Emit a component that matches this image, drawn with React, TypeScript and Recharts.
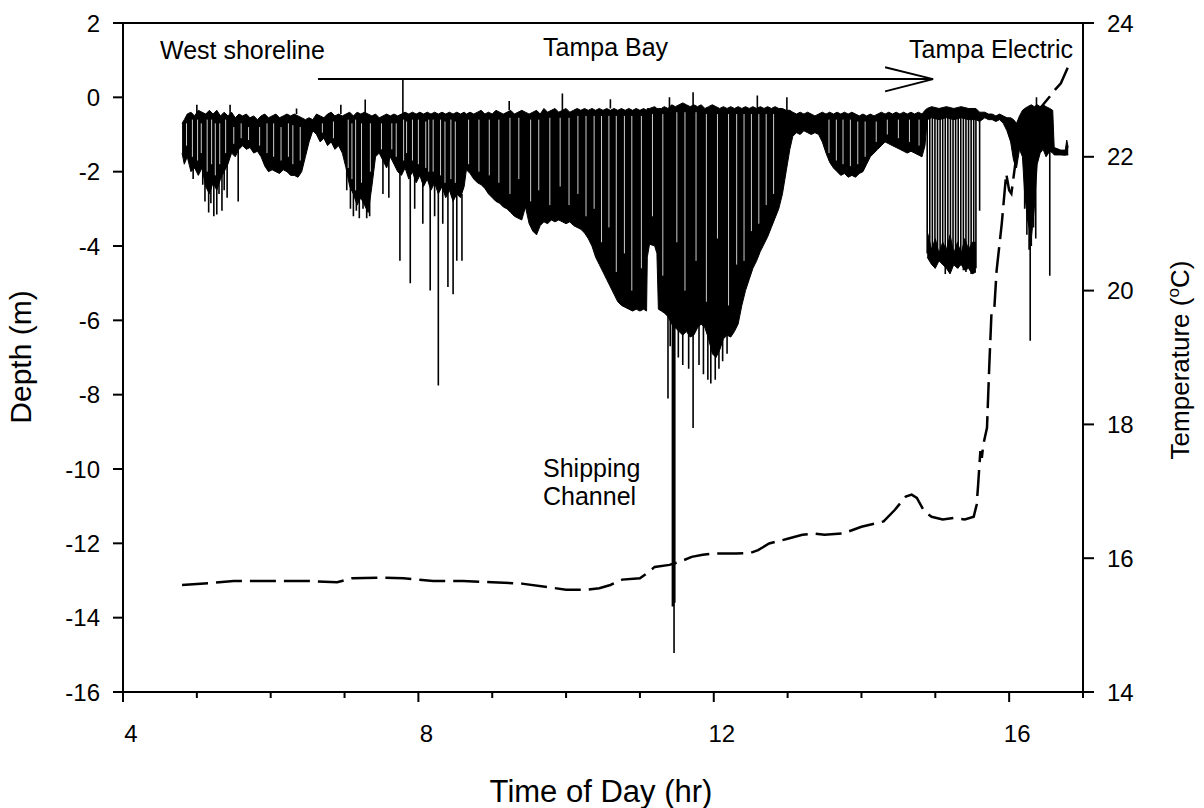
import React from 'react';
import { ComposedChart, Area, Line, XAxis, YAxis, ReferenceLine } from 'recharts';

const FONT = '"Liberation Sans", Arial, Helvetica, sans-serif';

// axis ticks
const timeTicks = [4, 5, 6, 7, 8, 9, 10, 11, 12, 13, 14, 15, 16, 17];
const timeLabels = [4, 8, 12, 16];
const depthTicks = [-16, -14, -12, -10, -8, -6, -4, -2, 0, 2];
const tempTicks = [14, 16, 18, 20, 22, 24];

// depth record: dense dive band [time (hr), shallow edge (m), deep edge (m)]
const depthBand: [number, number, number][] = [
  [4.8, -0.7, -1.5], [4.83, -0.6, -1.8], [4.87, -0.45, -1.6], [4.92, -0.4, -2.0], [4.97, -0.5, -1.9],
  [5.02, -0.35, -2.1], [5.07, -0.4, -1.9], [5.12, -0.45, -2.4], [5.17, -0.35, -2.6], [5.22, -0.45, -2.3],
  [5.27, -0.35, -2.5], [5.32, -0.5, -2.2], [5.37, -0.4, -2.0], [5.42, -0.5, -1.8], [5.47, -0.4, -1.5],
  [5.52, -0.55, -1.6], [5.57, -0.45, -1.4], [5.62, -0.5, -1.3], [5.67, -0.45, -1.4], [5.72, -0.55, -1.35],
  [5.77, -0.5, -1.5], [5.82, -0.6, -1.45], [5.87, -0.5, -1.6], [5.92, -0.45, -1.85], [5.97, -0.55, -2.0],
  [6.02, -0.5, -1.95], [6.07, -0.45, -2.0], [6.12, -0.55, -2.05], [6.17, -0.5, -1.95], [6.22, -0.45, -2.0],
  [6.27, -0.5, -2.1], [6.32, -0.45, -2.1], [6.37, -0.5, -2.15], [6.42, -0.55, -2.0], [6.47, -0.6, -1.6],
  [6.52, -0.55, -1.2], [6.57, -0.6, -0.9], [6.62, -0.45, -1.0], [6.67, -0.5, -1.2], [6.72, -0.55, -1.1],
  [6.77, -0.45, -1.3], [6.82, -0.4, -1.2], [6.87, -0.5, -1.4], [6.92, -0.45, -1.3], [6.97, -0.5, -1.5],
  [7.02, -0.45, -1.9], [7.07, -0.4, -2.4], [7.12, -0.5, -2.6], [7.17, -0.4, -2.9], [7.22, -0.45, -2.7],
  [7.27, -0.4, -2.9], [7.32, -0.45, -3.1], [7.37, -0.5, -2.4], [7.42, -0.45, -1.6], [7.47, -0.55, -1.5],
  [7.52, -0.5, -1.7], [7.57, -0.45, -1.9], [7.62, -0.5, -1.6], [7.67, -0.45, -1.8], [7.72, -0.5, -2.0],
  [7.77, -0.45, -2.1], [7.82, -0.4, -1.9], [7.87, -0.45, -2.2], [7.92, -0.4, -2.0], [7.97, -0.45, -2.3],
  [8.02, -0.4, -2.1], [8.07, -0.45, -2.4], [8.12, -0.4, -2.2], [8.17, -0.45, -2.5], [8.22, -0.4, -2.3],
  [8.27, -0.45, -2.6], [8.32, -0.4, -2.4], [8.37, -0.45, -2.7], [8.42, -0.4, -2.5], [8.47, -0.45, -2.8],
  [8.52, -0.4, -2.6], [8.57, -0.45, -2.7], [8.62, -0.4, -2.4], [8.65, -0.45, -1.95], [8.7, -0.4, -2.05],
  [8.75, -0.45, -2.2], [8.8, -0.4, -2.3], [8.85, -0.35, -2.35], [8.9, -0.45, -2.45], [8.95, -0.4, -2.6],
  [9.0, -0.45, -2.7], [9.05, -0.35, -2.8], [9.1, -0.4, -2.85], [9.15, -0.45, -2.95], [9.2, -0.4, -3.0],
  [9.25, -0.35, -3.1], [9.3, -0.45, -3.2], [9.35, -0.4, -3.25], [9.4, -0.35, -3.3], [9.45, -0.4, -2.95],
  [9.5, -0.45, -3.4], [9.55, -0.4, -3.6], [9.6, -0.35, -3.7], [9.65, -0.45, -3.45], [9.7, -0.3, -3.35],
  [9.75, -0.4, -3.4], [9.8, -0.35, -3.3], [9.85, -0.3, -3.35], [9.9, -0.4, -3.3], [9.95, -0.35, -3.35],
  [10.0, -0.3, -3.4], [10.05, -0.4, -3.35], [10.1, -0.35, -3.45], [10.15, -0.3, -3.5], [10.2, -0.35, -3.55],
  [10.25, -0.3, -3.65], [10.3, -0.35, -3.8], [10.35, -0.3, -4.0], [10.4, -0.35, -4.3], [10.45, -0.3, -4.5],
  [10.5, -0.35, -4.7], [10.55, -0.3, -4.9], [10.6, -0.35, -5.1], [10.65, -0.3, -5.3], [10.7, -0.35, -5.5],
  [10.75, -0.3, -5.6], [10.8, -0.35, -5.65], [10.85, -0.3, -5.7], [10.9, -0.35, -5.75], [10.95, -0.3, -5.7],
  [11.0, -0.35, -5.75], [11.05, -0.3, -5.7], [11.09, -0.35, -5.75], [11.1, -0.3, -4.3], [11.13, -0.3, -3.95],
  [11.2, -0.25, -4.0], [11.23, -0.3, -4.2], [11.25, -0.3, -5.7], [11.29, -0.3, -5.75], [11.33, -0.25, -5.8],
  [11.38, -0.3, -5.9], [11.43, -0.2, -6.1],
  [11.48, -0.25, -6.2], [11.53, -0.2, -6.3], [11.58, -0.15, -6.4], [11.63, -0.2, -6.3], [11.68, -0.25, -6.45],
  [11.73, -0.2, -6.4], [11.78, -0.25, -6.2], [11.83, -0.2, -6.1], [11.88, -0.3, -6.2], [11.93, -0.25, -6.5],
  [11.98, -0.2, -6.9], [12.03, -0.25, -7.0], [12.08, -0.3, -6.8], [12.13, -0.25, -6.5], [12.18, -0.3, -6.4],
  [12.23, -0.25, -6.45], [12.28, -0.3, -6.3], [12.33, -0.25, -6.1], [12.38, -0.3, -5.6], [12.43, -0.25, -5.2],
  [12.48, -0.3, -4.9], [12.53, -0.25, -4.6], [12.58, -0.3, -4.4], [12.63, -0.25, -4.15], [12.68, -0.3, -3.95],
  [12.73, -0.25, -3.75], [12.78, -0.3, -3.5], [12.83, -0.25, -3.25], [12.88, -0.3, -3.0], [12.93, -0.3, -2.6],
  [12.98, -0.35, -2.0], [13.03, -0.35, -1.4], [13.07, -0.4, -1.05], [13.12, -0.45, -0.95], [13.17, -0.4, -1.0],
  [13.22, -0.45, -0.9], [13.27, -0.4, -0.95], [13.32, -0.45, -1.0], [13.37, -0.5, -0.95], [13.42, -0.45, -1.0],
  [13.47, -0.4, -1.2], [13.52, -0.45, -1.5], [13.57, -0.4, -1.75], [13.62, -0.45, -1.9], [13.67, -0.4, -2.0],
  [13.72, -0.45, -2.1], [13.77, -0.4, -2.05], [13.82, -0.45, -2.15], [13.87, -0.4, -2.1], [13.92, -0.45, -2.15],
  [13.97, -0.5, -2.05], [14.02, -0.45, -2.0], [14.07, -0.5, -1.8], [14.12, -0.45, -1.6], [14.17, -0.5, -1.5],
  [14.22, -0.45, -1.4], [14.27, -0.4, -1.3], [14.32, -0.45, -1.2], [14.37, -0.4, -1.25], [14.42, -0.45, -1.3],
  [14.47, -0.4, -1.35], [14.52, -0.45, -1.4], [14.57, -0.4, -1.45], [14.62, -0.45, -1.5], [14.67, -0.4, -1.45],
  [14.72, -0.45, -1.5], [14.77, -0.4, -1.55], [14.82, -0.45, -1.6], [14.86, -0.35, -1.3], [14.89, -0.3, -0.6],
  [14.95, -0.25, -0.55], [15.05, -0.3, -0.6], [15.15, -0.25, -0.55], [15.25, -0.3, -0.6], [15.35, -0.25, -0.55],
  [15.45, -0.3, -0.6], [15.55, -0.3, -0.6], [15.6, -0.4, -0.65], [15.67, -0.4, -0.55], [15.72, -0.45, -0.6],
  [15.77, -0.45, -0.6], [15.82, -0.5, -0.65], [15.87, -0.45, -0.6], [15.92, -0.5, -0.7], [15.97, -0.55, -0.9],
  [16.02, -0.55, -1.2], [16.06, -0.6, -1.7], [16.1, -0.7, -1.9], [16.14, -0.5, -1.4], [16.18, -0.35, -1.6],
  [16.21, -0.3, -2.6], [16.25, -0.25, -3.3], [16.3, -0.2, -3.8], [16.34, -0.25, -3.0], [16.38, -0.2, -1.8],
  [16.42, -0.25, -1.5], [16.46, -0.2, -1.4], [16.5, -0.25, -1.6], [16.55, -0.3, -1.45], [16.59, -0.35, -1.5],
  [16.61, -1.35, -1.55], [16.7, -1.42, -1.55], [16.76, -1.42, -1.56], [16.78, -1.15, -1.55], [16.8, -1.35, -1.55],
];

// bottom of the repeated dives before Tampa Electric [time, shallow, deep]
const lowerBand: [number, number, number][] = [
  [14.89, -3.6, -4.3], [14.95, -4.1, -4.5], [15.0, -3.8, -4.6], [15.05, -4.2, -4.4], [15.1, -3.9, -4.5],
  [15.15, -4.1, -4.6], [15.2, -3.7, -4.75], [15.25, -4.2, -4.5], [15.3, -3.9, -4.6], [15.35, -4.2, -4.5],
  [15.4, -3.8, -4.65], [15.45, -4.1, -4.6], [15.5, -3.9, -4.75], [15.55, -3.9, -4.7],
];

// individual dives / excursions [time, from depth, to depth]
const depthSpikes: [number, number, number][] = [
  [4.95, -1.8, -2.2], [5.08, -1.8, -2.35], [5.11, -2.1, -2.8], [5.16, -2.3, -3.1], [5.19, -2.2, -2.85],
  [5.23, -2.2, -3.2], [5.27, -2.3, -3.15], [5.3, -2.1, -2.6], [5.34, -2.1, -3.05], [5.37, -1.9, -2.5],
  [5.41, -1.7, -2.7], [5.56, -1.4, -2.8],
  [7.03, -1.9, -2.5], [7.08, -2.3, -3.0], [7.12, -2.5, -3.2], [7.16, -2.7, -3.05], [7.2, -2.6, -3.25],
  [7.25, -2.7, -3.0], [7.3, -2.8, -3.25], [7.34, -2.6, -3.2], [7.52, -1.6, -2.6], [7.6, -1.6, -2.7],
  [7.75, -2.0, -4.4], [7.89, -2.1, -5.0], [7.95, -2.0, -3.0], [8.06, -2.2, -3.4], [8.16, -2.3, -5.2],
  [8.22, -2.3, -3.2], [8.27, -2.5, -7.75], [8.33, -2.4, -3.4], [8.4, -2.5, -5.1], [8.47, -2.7, -5.3],
  [8.52, -2.6, -4.4], [8.59, -2.6, -4.4],
  [11.38, -5.8, -8.1], [11.41, -5.9, -6.7], [11.44, -6.0, -13.7], [11.452, -6.0, -13.7], [11.462, -6.0, -14.95],
  [11.472, -6.0, -13.6], [11.52, -6.2, -7.0], [11.58, -6.3, -7.2], [11.66, -6.3, -7.3], [11.72, -6.4, -8.9],
  [11.8, -6.1, -7.2], [11.86, -6.1, -7.45], [11.92, -6.4, -7.6], [11.96, -6.7, -7.7], [12.02, -6.9, -7.6],
  [12.07, -6.8, -7.3], [12.12, -6.5, -7.1], [12.18, -6.4, -6.9],
  [14.89, -0.4, -4.2], [14.925, -0.3, -4.4], [14.96, -0.3, -4.5], [14.995, -0.3, -4.6], [15.03, -0.3, -4.35],
  [15.065, -0.3, -4.4], [15.1, -0.3, -4.5], [15.135, -0.3, -4.75], [15.17, -0.3, -4.6], [15.205, -0.3, -4.5],
  [15.24, -0.3, -4.4], [15.275, -0.3, -4.55], [15.31, -0.3, -4.6], [15.345, -0.3, -4.5], [15.38, -0.3, -4.65],
  [15.415, -0.3, -4.7], [15.45, -0.3, -4.6], [15.485, -0.3, -4.75], [15.52, -0.3, -4.7], [15.55, -0.4, -4.6],
  [15.6, -0.6, -3.05],
  [16.21, -1.5, -3.0], [16.24, -1.5, -3.7], [16.27, -1.5, -4.1], [16.285, -1.5, -6.55], [16.3, -1.5, -4.0],
  [16.33, -1.5, -3.5], [16.36, -1.5, -3.8], [16.55, -1.4, -4.8],
  [5.0, -0.45, -0.2], [5.45, -0.45, -0.2], [6.35, -0.45, -0.3], [6.95, -0.45, -0.2], [7.28, -0.45, -0.06],
  [7.79, -0.5, 0.49], [9.23, -0.35, -0.1], [9.95, -0.35, 0.1], [10.6, -0.3, -0.05], [11.4, -0.3, 0.0],
  [11.72, -0.25, 0.14], [12.59, -0.3, 0.05], [12.99, -0.35, 0.0], [16.37, -0.3, 0.0],
];

// open water between successive dives [time, from depth, to depth]
const diveGaps: [number, number, number][] = [
  [4.86, -0.7, -1.3], [4.94, -0.6, -1.6], [5.01, -0.6, -1.7], [5.06, -0.7, -1.5], [5.14, -0.6, -2.0],
  [5.2, -0.6, -1.8], [5.25, -0.7, -2.1], [5.31, -0.7, -1.8], [5.39, -0.6, -1.5], [5.5, -0.8, -1.25],
  [5.6, -0.7, -1.1], [5.7, -0.8, -1.15], [5.85, -0.8, -1.3], [5.95, -0.7, -1.5], [6.04, -0.7, -1.6],
  [6.14, -0.8, -1.7], [6.24, -0.7, -1.6], [6.3, -0.75, -1.8], [6.4, -0.8, -1.7], [6.7, -0.7, -0.95],
  [6.85, -0.65, -1.1],
  [7.05, -0.6, -1.9], [7.1, -0.7, -2.2], [7.15, -0.6, -2.5], [7.23, -0.7, -2.3], [7.35, -0.7, -2.0],
  [7.5, -0.7, -1.4], [7.64, -0.7, -1.4], [7.7, -0.7, -1.6], [7.8, -0.6, -1.7], [7.84, -0.65, -1.5],
  [7.92, -0.6, -1.7], [8.0, -0.6, -1.8], [8.1, -0.65, -1.9], [8.14, -0.6, -2.0],
  [8.2, -0.6, -2.0], [8.3, -0.6, -2.1], [8.36, -0.65, -2.3], [8.44, -0.6, -2.2], [8.5, -0.65, -2.3],
  [8.68, -0.6, -1.8], [8.82, -0.6, -2.0], [8.96, -0.6, -2.1], [9.09, -0.6, -2.3], [9.24, -0.55, -2.6],
  [9.36, -0.55, -2.2], [9.52, -0.6, -2.8], [9.63, -0.6, -2.5], [9.78, -0.55, -2.9], [9.92, -0.55, -2.4],
  [10.04, -0.55, -2.9], [10.16, -0.5, -2.6], [10.27, -0.5, -3.2], [10.38, -0.5, -3.0], [10.48, -0.5, -3.9],
  [10.58, -0.5, -3.5], [10.68, -0.5, -4.7], [10.79, -0.5, -4.2], [10.89, -0.5, -5.2], [11.02, -0.5, -4.6],
  [11.17, -0.45, -3.2], [11.31, -0.45, -4.8], [11.5, -0.4, -3.9], [11.61, -0.4, -5.2], [11.76, -0.4, -4.4],
  [11.9, -0.45, -5.5], [12.05, -0.45, -3.8], [12.2, -0.45, -5.6], [12.31, -0.45, -4.5], [12.41, -0.45, -4.4],
  [12.51, -0.45, -3.6], [12.61, -0.45, -3.4], [12.71, -0.45, -2.9], [12.81, -0.45, -2.6],
  [13.56, -0.6, -1.5], [13.66, -0.6, -1.7], [13.75, -0.6, -1.8], [13.85, -0.6, -1.85], [13.95, -0.65, -1.8],
  [14.05, -0.65, -1.6], [14.2, -0.65, -1.2], [14.35, -0.6, -1.0], [14.5, -0.6, -1.1], [14.65, -0.6, -1.2],
  [14.78, -0.6, -1.3],
];

// water temperature [time, deg C]
const temperature: [number, number][] = [
  [4.8, 15.6], [5.2, 15.63], [5.5, 15.66], [6.0, 15.66], [6.5, 15.66], [6.9, 15.64], [7.1, 15.7], [7.5, 15.71],
  [7.8, 15.7], [8.2, 15.66], [8.6, 15.66], [9.0, 15.64], [9.4, 15.62], [9.8, 15.56], [10.0, 15.53], [10.3, 15.53],
  [10.45, 15.55], [10.6, 15.6], [10.76, 15.68], [11.0, 15.7], [11.1, 15.78], [11.2, 15.87], [11.4, 15.9],
  [11.55, 15.95], [11.7, 16.02], [11.85, 16.05], [12.0, 16.07], [12.3, 16.07], [12.5, 16.08], [12.6, 16.12],
  [12.75, 16.22], [13.0, 16.29], [13.2, 16.35], [13.35, 16.37], [13.5, 16.35], [13.75, 16.37], [14.0, 16.47],
  [14.3, 16.55], [14.45, 16.72], [14.6, 16.92], [14.68, 16.95], [14.75, 16.9], [14.85, 16.7], [14.95, 16.62],
  [15.1, 16.58], [15.25, 16.6], [15.4, 16.58], [15.52, 16.62], [15.56, 16.8], [15.58, 17.1], [15.61, 17.6],
  [15.63, 17.5], [15.65, 17.7], [15.7, 17.95], [15.73, 18.85], [15.76, 19.65], [15.8, 19.75], [15.83, 20.3],
  [15.9, 21.0], [15.96, 21.75], [16.0, 21.5], [16.03, 21.45], [16.06, 21.7], [16.12, 22.2], [16.2, 22.5],
  [16.4, 22.7], [16.55, 22.9], [16.62, 23.0], [16.7, 23.1], [16.76, 23.25], [16.8, 23.35],
];

const toBand = (rows: [number, number, number][]) => rows.map(([t, top, bot]) => ({ t, range: [bot, top] }));
const toSegments = (rows: [number, number, number][]) =>
  rows.flatMap(([t, a, b]) => [
    { t, d: a },
    { t, d: b },
    { t, d: null },
  ]);

const bandData = toBand(depthBand);
const lowerData = toBand(lowerBand);
const spikeData = toSegments(depthSpikes);
const gapData = toSegments(diveGaps);
const tempData = temperature.map(([t, v]) => ({ t, temp: v }));

const XTick = (props: any) => {
  const { x, y, payload } = props;
  const v = payload.value as number;
  const major = timeLabels.includes(v);
  return (
    <g>
      <line x1={x} x2={x} y1={y} y2={y + (major ? 10 : 6)} stroke="#000" strokeWidth={2} />
      {major ? (
        <text x={x + 8} y={y + 50} textAnchor="middle" fontSize={24} fontFamily={FONT} fill="#000">
          {v}
        </text>
      ) : null}
    </g>
  );
};

const LeftTick = (props: any) => {
  const { x, y, payload } = props;
  return (
    <g>
      <line x1={x - 10} x2={x} y1={y} y2={y} stroke="#000" strokeWidth={2} />
      <text x={x - 23} y={y + 8.5} textAnchor="end" fontSize={24} fontFamily={FONT} fill="#000">
        {payload.value}
      </text>
    </g>
  );
};

const RightTick = (props: any) => {
  const { x, y, payload } = props;
  return (
    <g>
      <line x1={x} x2={x + 11} y1={y} y2={y} stroke="#000" strokeWidth={2} />
      <text x={x + 24} y={y + 8.5} textAnchor="start" fontSize={24} fontFamily={FONT} fill="#000">
        {payload.value}
      </text>
    </g>
  );
};

const textStyle = { fontFamily: FONT, fill: '#000' };

export default function App() {
  return (
    <div style={{ position: 'absolute', left: 0, top: 0, background: '#fff' }}>
      <ComposedChart width={1204} height={808} margin={{ top: 23, right: 0, bottom: 0, left: 0 }}>
        <XAxis
          type="number"
          dataKey="t"
          domain={[4, 17]}
          ticks={timeTicks}
          interval={0}
          height={116}
          tickSize={0}
          tickMargin={0}
          tickLine={false}
          axisLine={{ stroke: '#000', strokeWidth: 2 }}
          tick={<XTick />}
          allowDataOverflow
        />
        <YAxis
          yAxisId="depth"
          type="number"
          domain={[-16, 2]}
          ticks={depthTicks}
          interval={0}
          width={123}
          tickSize={0}
          tickMargin={0}
          tickLine={false}
          axisLine={{ stroke: '#000', strokeWidth: 2 }}
          tick={<LeftTick />}
          allowDataOverflow
        />
        <YAxis
          yAxisId="temp"
          orientation="right"
          type="number"
          domain={[14, 24]}
          ticks={tempTicks}
          interval={0}
          width={121}
          tickSize={0}
          tickMargin={0}
          tickLine={false}
          axisLine={{ stroke: '#000', strokeWidth: 2 }}
          tick={<RightTick />}
          allowDataOverflow
        />
        <ReferenceLine yAxisId="depth" y={2} stroke="#000" strokeWidth={2} />
        <Area
          data={bandData}
          dataKey="range"
          yAxisId="depth"
          type="linear"
          stroke="#000"
          strokeWidth={1}
          fill="#000"
          fillOpacity={1}
          dot={false}
          activeDot={false}
          isAnimationActive={false}
        />
        <Area
          data={lowerData}
          dataKey="range"
          yAxisId="depth"
          type="linear"
          stroke="#000"
          strokeWidth={1}
          fill="#000"
          fillOpacity={1}
          dot={false}
          activeDot={false}
          isAnimationActive={false}
        />
        <Line
          data={gapData}
          dataKey="d"
          yAxisId="depth"
          type="linear"
          stroke="#fff"
          strokeWidth={0.8}
          dot={false}
          activeDot={false}
          connectNulls={false}
          isAnimationActive={false}
        />
        <Line
          data={spikeData}
          dataKey="d"
          yAxisId="depth"
          type="linear"
          stroke="#000"
          strokeWidth={1.6}
          dot={false}
          activeDot={false}
          connectNulls={false}
          isAnimationActive={false}
        />
        <Line
          data={tempData}
          dataKey="temp"
          yAxisId="temp"
          type="linear"
          stroke="#000"
          strokeWidth={2.5}
          strokeDasharray="26 8"
          dot={false}
          activeDot={false}
          isAnimationActive={false}
        />
        <ReferenceLine yAxisId="depth" segment={[{ x: 6.64, y: 0.49 }, { x: 14.97, y: 0.49 }]} stroke="#000" strokeWidth={2} />
        <ReferenceLine yAxisId="depth" segment={[{ x: 14.32, y: 0.81 }, { x: 14.97, y: 0.49 }]} stroke="#000" strokeWidth={2} />
        <ReferenceLine yAxisId="depth" segment={[{ x: 14.32, y: 0.16 }, { x: 14.97, y: 0.49 }]} stroke="#000" strokeWidth={2} />
        <g>
          <text x={160} y={59} fontSize={25} style={textStyle}>West shoreline</text>
          <text x={543} y={56} fontSize={25} style={textStyle}>Tampa Bay</text>
          <text x={1073} y={58} fontSize={25} textAnchor="end" style={textStyle}>Tampa Electric</text>
          <text x={543} y={477} fontSize={25} style={textStyle}>Shipping</text>
          <text x={543} y={505} fontSize={25} style={textStyle}>Channel</text>
          <text x={601} y={802} fontSize={31} textAnchor="middle" style={textStyle}>Time of Day (hr)</text>
          <text transform="translate(31,357) rotate(-90)" fontSize={30} textAnchor="middle" style={textStyle}>Depth (m)</text>
          <text transform="translate(1189,360) rotate(-90)" fontSize={26} textAnchor="middle" style={textStyle}>
            Temperature (<tspan dy={-10} fontSize={17}>o</tspan><tspan dy={10}>C)</tspan>
          </text>
        </g>
      </ComposedChart>
    </div>
  );
}
